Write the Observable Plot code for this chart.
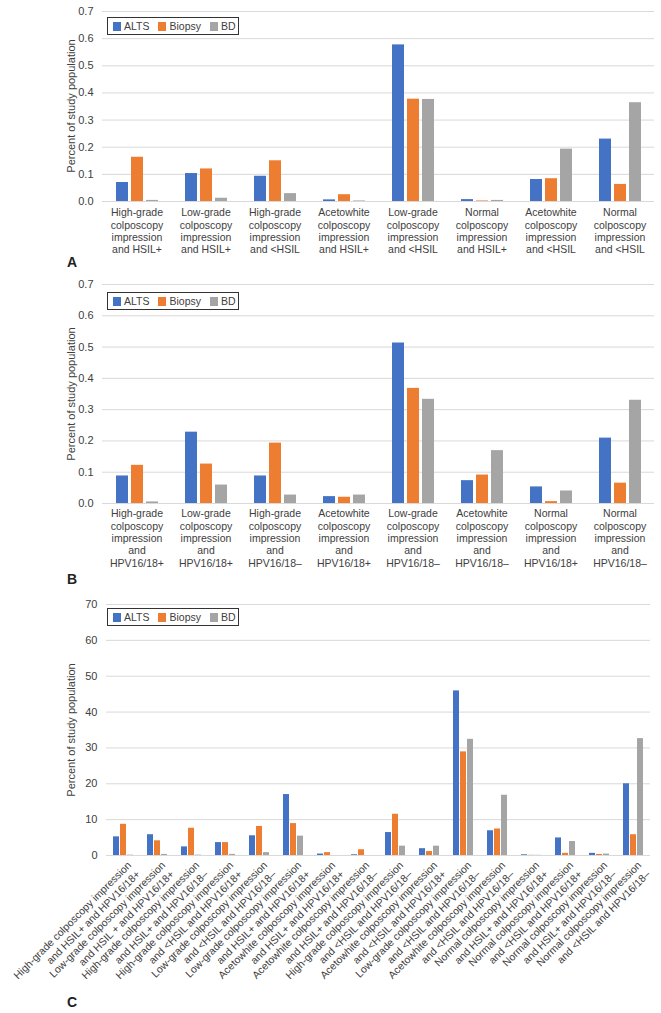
<!DOCTYPE html>
<html><head><meta charset="utf-8">
<script src="https://cdn.jsdelivr.net/npm/d3@7"></script>
<script src="https://cdn.jsdelivr.net/npm/@observablehq/plot@0.6"></script>
<style>
html,body{margin:0;padding:0;background:#fff;}
body{width:661px;height:1013px;position:relative;overflow:hidden;font-family:"Liberation Sans",Arial,sans-serif;color:#404040;}
.panel{position:absolute;left:0;}
.ylab{position:absolute;font-size:11px;white-space:nowrap;transform:translate(-50%,-50%) rotate(-90deg);}
.letter{position:absolute;font-size:14px;font-weight:bold;color:#222;transform:translate(-50%,-50%);}
.legend{position:absolute;border:1px solid #333;box-sizing:border-box;background:#fff;font-size:10.5px;display:flex;align-items:center;padding:0 2px 0 5px;height:18px;}
.legend .it{display:flex;align-items:center;margin-right:9px;}
.legend .it:last-child{margin-right:0;}
.legend .sw{width:8px;height:9px;margin-right:3px;}
</style></head><body>
<script>
const series = ["ALTS", "Biopsy", "BD"];
const seriesColors = ["#4472C4", "#ED7D31", "#A5A5A5"];

// Panel A
const labelsA = [
  "High-grade\ncolposcopy\nimpression\nand HSIL+",
  "Low-grade\ncolposcopy\nimpression\nand HSIL+",
  "High-grade\ncolposcopy\nimpression\nand <HSIL",
  "Acetowhite\ncolposcopy\nimpression\nand HSIL+",
  "Low-grade\ncolposcopy\nimpression\nand <HSIL",
  "Normal\ncolposcopy\nimpression\nand HSIL+",
  "Acetowhite\ncolposcopy\nimpression\nand <HSIL",
  "Normal\ncolposcopy\nimpression\nand <HSIL"
];
const altsA   = [0.070, 0.103, 0.093, 0.006, 0.577, 0.007, 0.081, 0.230];
const biopsyA = [0.163, 0.120, 0.150, 0.025, 0.377, 0.002, 0.084, 0.063];
const bdA     = [0.004, 0.012, 0.029, 0.002, 0.376, 0.004, 0.193, 0.364];
const yTicksA = [0, 0.1, 0.2, 0.3, 0.4, 0.5, 0.6, 0.7];

// Panel B
const labelsB = [
  "High-grade\ncolposcopy\nimpression\nand\nHPV16/18+",
  "Low-grade\ncolposcopy\nimpression\nand\nHPV16/18+",
  "High-grade\ncolposcopy\nimpression\nand\nHPV16/18–",
  "Acetowhite\ncolposcopy\nimpression\nand\nHPV16/18+",
  "Low-grade\ncolposcopy\nimpression\nand\nHPV16/18–",
  "Acetowhite\ncolposcopy\nimpression\nand\nHPV16/18–",
  "Normal\ncolposcopy\nimpression\nand\nHPV16/18+",
  "Normal\ncolposcopy\nimpression\nand\nHPV16/18–"
];
const altsB   = [0.088, 0.228, 0.088, 0.022, 0.513, 0.073, 0.053, 0.209];
const biopsyB = [0.122, 0.126, 0.193, 0.020, 0.368, 0.091, 0.006, 0.065];
const bdB     = [0.005, 0.059, 0.027, 0.027, 0.333, 0.169, 0.040, 0.330];
const yTicksB = [0, 0.1, 0.2, 0.3, 0.4, 0.5, 0.6, 0.7];

// Panel C
const labelsC = [
  "High-grade colposcopy impression\nand HSIL+ and HPV16/18+",
  "Low-grade colposcopy impression\nand HSIL + and HPV16/18+",
  "High-grade colposcopy impression\nand HSIL+ and HPV16/18–",
  "High-grade colposcopy impression\nand <HSIL and HPV16/18+",
  "Low-grade colposcopy impression\nand <HSIL and HPV16/18–",
  "Low-grade colposcopy impression\nand HSIL+ and HPV16/18+",
  "Acetowhite colposcopy impression\nand HSIL+ and HPV16/18+",
  "Acetowhite colposcopy impression\nand HSIL+ and HPV16/18–",
  "High-grade colposcopy impression\nand <HSIL and HPV16/18–",
  "Acetowhite colposcopy impression\nand <HSIL and HPV16/18+",
  "Low-grade colposcopy impression\nand <HSIL and HPV16/18–",
  "Acetowhite colposcopy impression\nand <HSIL and HPV16/18–",
  "Normal colposcopy impression\nand HSIL+ and HPV16/18+",
  "Normal colposcopy impression\nand <HSIL and HPV16/18+",
  "Normal colposcopy impression\nand HSIL+ and HPV16/18–",
  "Normal colposcopy impression\nand <HSIL and HPV16/18–"
];
const altsC   = [5.2, 5.8, 2.4, 3.6, 5.5, 17.0, 0.4, 0.2, 6.4, 1.9, 45.9, 6.9, 0.2, 4.9, 0.6, 20.0];
const biopsyC = [8.7, 4.1, 7.6, 3.6, 8.1, 8.9, 0.8, 1.6, 11.5, 1.1, 28.9, 7.4, 0.05, 0.6, 0.3, 5.8];
const bdC     = [0.1, 0.3, 0.1, 0.3, 0.8, 5.4, 0.0, 0.0, 2.6, 2.6, 32.4, 16.8, 0.05, 3.9, 0.4, 32.6];
const yTicksC = [0, 10, 20, 30, 40, 50, 60, 70];

const yLabel = "Percent of study population";
const FONT = '"Liberation Sans", Arial, sans-serif';

function addDiv(cls, text, left, top) {
  const d = document.createElement("div");
  d.className = cls; d.textContent = text;
  d.style.left = left + "px"; d.style.top = top + "px";
  document.body.appendChild(d);
  return d;
}

function addLegend(left, top) {
  const box = document.createElement("div");
  box.className = "legend";
  box.style.left = left + "px"; box.style.top = top + "px";
  series.forEach((s, i) => {
    const it = document.createElement("div"); it.className = "it";
    const sw = document.createElement("div"); sw.className = "sw"; sw.style.background = seriesColors[i];
    const t = document.createElement("span"); t.textContent = s;
    it.appendChild(sw); it.appendChild(t); box.appendChild(it);
  });
  document.body.appendChild(box);
}

function panel({labels, alts, biopsy, bd, yTicks, yFormat, top, height, marginTop, marginBottom, paddingOuter, axisOpts}) {
  const data = [];
  labels.forEach((_, i) => {
    [alts, biopsy, bd].forEach((arr, j) => data.push({cat: i, series: series[j], value: arr[i]}));
  });
  const chart = Plot.plot({
    width: 661, height,
    marginLeft: 102, marginRight: 7, marginTop, marginBottom,
    style: {fontFamily: FONT, fontSize: "11px", color: "#404040", background: "transparent", overflow: "visible"},
    fx: {domain: d3.range(labels.length), padding: 0, label: null},
    x: {domain: series, paddingInner: 0.2, paddingOuter, axis: null},
    y: {domain: [yTicks[0], yTicks[yTicks.length - 1]], axis: null},
    color: {domain: series, range: seriesColors},
    marks: [
      Plot.gridY(yTicks, {stroke: "#d9d9d9", strokeOpacity: 1}),
      Plot.barY(data, {fx: "cat", x: "series", y: "value", fill: "series"}),
      Plot.axisY(yTicks, {tickSize: 0, tickPadding: 9, tickFormat: yFormat, label: null, fontSize: 11}),
      Plot.axisFx({anchor: "bottom", tickSize: 0, label: null, tickFormat: i => labels[i], fontSize: 10.5, ...axisOpts})
    ]
  });
  chart.classList.add("panel");
  chart.style.top = top + "px";
  document.body.appendChild(chart);
}

panel({labels: labelsA, alts: altsA, biopsy: biopsyA, bd: bdA, yTicks: yTicksA, yFormat: d3.format(".1f"),
  top: 0, height: 261, marginTop: 11, marginBottom: 60, paddingOuter: 0.9,
  axisOpts: {tickPadding: 6, lineHeight: 1.18}});
panel({labels: labelsB, alts: altsB, biopsy: biopsyB, bd: bdB, yTicks: yTicksB, yFormat: d3.format(".1f"),
  top: 270, height: 298, marginTop: 14, marginBottom: 65, paddingOuter: 0.9,
  axisOpts: {tickPadding: 5, lineHeight: 1.18}});
panel({labels: labelsC, alts: altsC, biopsy: biopsyC, bd: bdC, yTicks: yTicksC, yFormat: d3.format("d"),
  top: 590, height: 400, marginTop: 14, marginBottom: 135, paddingOuter: 0.75,
  axisOpts: {tickPadding: 12, tickRotate: -45, dx: 10, lineHeight: 1.2}});

addLegend(107, 17);
addLegend(107, 292);
addLegend(107, 608);

addDiv("ylab", yLabel, 71, 106);
addDiv("ylab", yLabel, 71, 393.5);
addDiv("ylab", yLabel, 71, 729.5);

addDiv("letter", "A", 72, 262);
addDiv("letter", "B", 72, 579);
addDiv("letter", "C", 72, 1002);
</script>
</body></html>
